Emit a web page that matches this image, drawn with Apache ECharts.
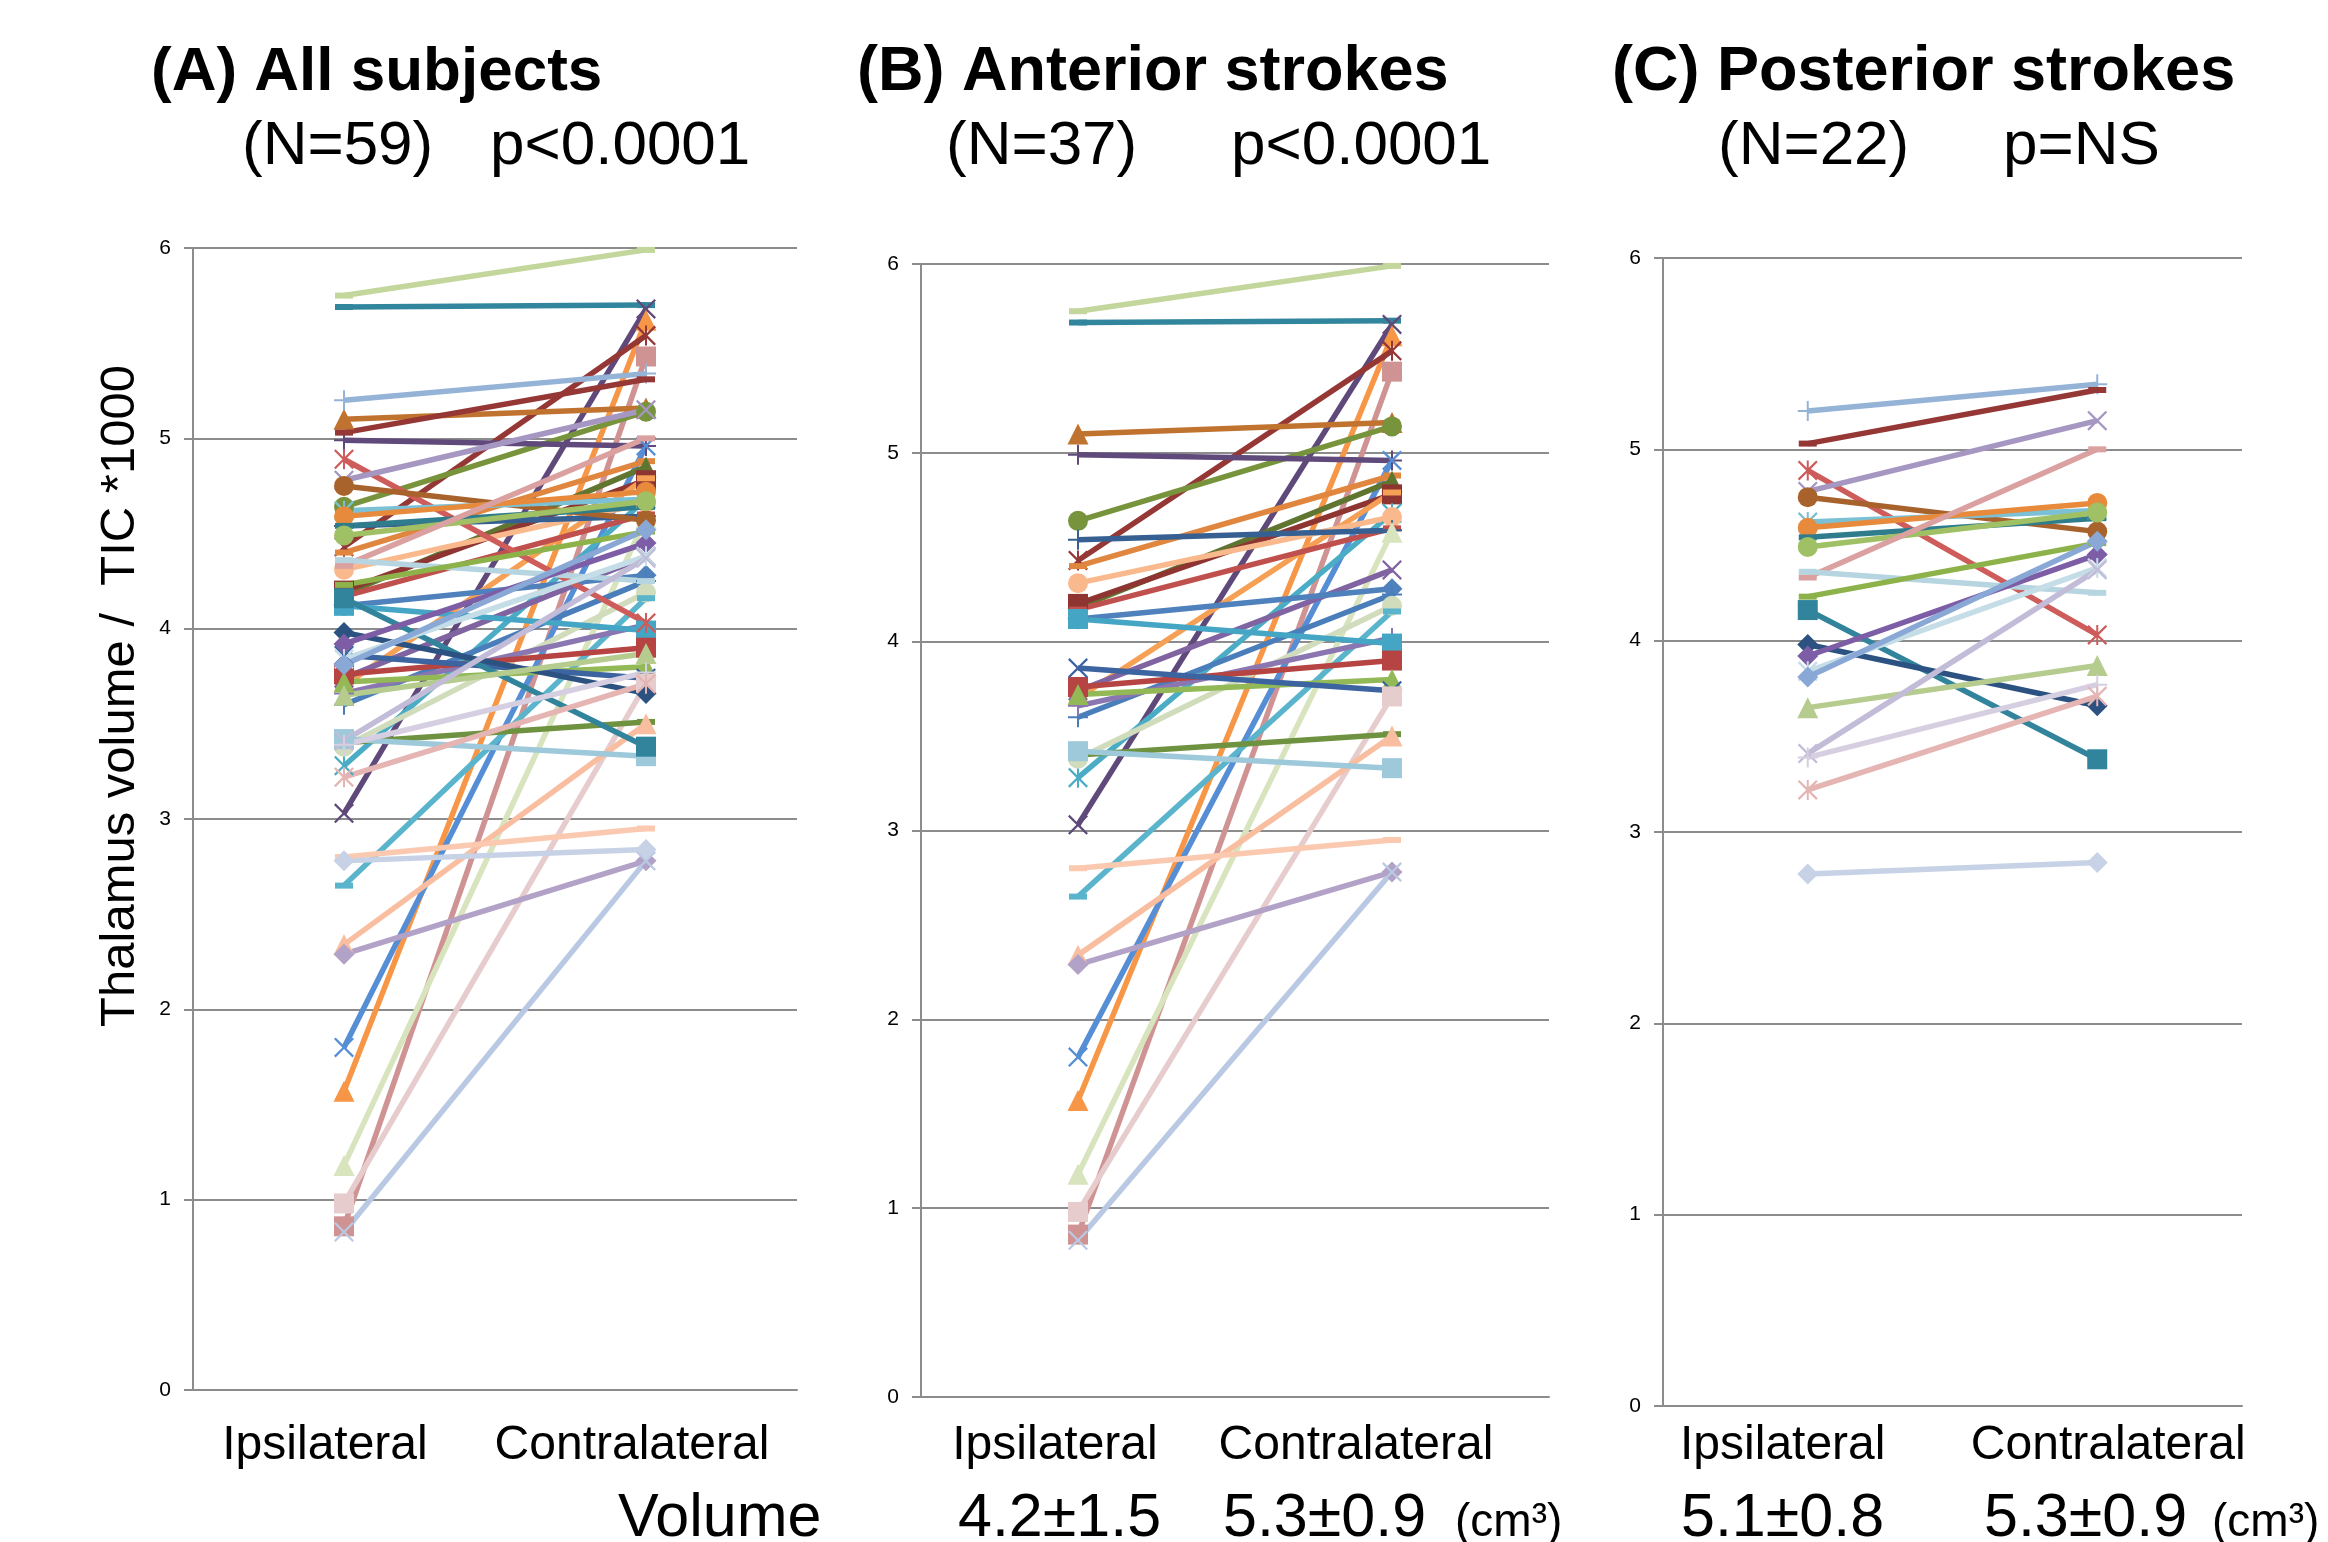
<!DOCTYPE html>
<html><head><meta charset="utf-8">
<script src="https://cdn.jsdelivr.net/npm/echarts@6/dist/echarts.min.js"></script>
<style>html,body{margin:0;padding:0;background:#fff}#c{width:2328px;height:1542px}</style>
</head><body><div id="c"></div>
<script>
// ---------------- DATA ----------------
const categories = ['Ipsilateral', 'Contralateral'];
const yTickValues = [0, 1, 2, 3, 4, 5, 6];

// (B) Anterior strokes: thalamus volume / TIC *1000
const anteriorIpsi   = [5.75, 5.69, 3.03, 1.57, 4.43, 0.86, 5.10, 4.64, 4.99, 1.80, 4.40, 4.18, 4.20, 3.70, 3.28, 4.31, 4.17, 4.54, 1.18, 3.74, 4.12, 3.60, 3.38, 2.65, 3.66, 4.12, 3.76, 3.72, 3.86, 0.98, 3.40, 2.34, 3.42, 2.80, 2.29, 0.83];
const anteriorContra = [5.99, 5.70, 5.68, 5.62, 5.54, 5.43, 5.16, 5.14, 4.96, 4.96, 4.88, 4.85, 4.78, 4.79, 4.68, 4.66, 4.60, 4.59, 4.58, 4.38, 4.28, 4.25, 4.19, 4.16, 4.02, 3.99, 3.90, 3.80, 3.74, 3.71, 3.51, 3.50, 3.33, 2.95, 2.78, 2.78];

// (C) Posterior strokes
const posteriorIpsi   = [5.20, 5.03, 4.89, 4.78, 4.75, 4.62, 4.59, 4.54, 4.49, 4.33, 4.36, 4.23, 4.16, 3.98, 3.92, 3.84, 3.81, 3.65, 3.41, 3.39, 3.22, 2.78];
const posteriorContra = [5.34, 5.31, 4.03, 5.15, 4.57, 4.68, 4.72, 4.64, 4.67, 5.00, 4.25, 4.51, 3.38, 3.66, 4.45, 4.38, 4.52, 3.87, 4.37, 3.77, 3.71, 2.84];

// ---------------- STYLES ----------------
const anteriorColors = ['#c3d69b','#31859c','#5f497a','#f79646','#953735','#d09393','#c0722f','#77933c','#604a7b','#558ed5','#e0863e','#5f7530','#8e3532','#f5a054','#4bacc6','#fab98c','#c0504d','#376092','#d7e4bd','#8064a2','#4f81bd','#4a7ebb','#d0dcbc','#5ab4cc','#8a76b0','#45a5c4','#b54442','#93b957','#3b64a0','#e6cccc','#6e9240','#f9bea0','#9dc9da','#fac9b0','#b3a2c7','#b9c9e3'];
const anteriorMarkers = ['dash','dash','x','triangle','star','square','triangle','circle','plus','x','dash','triangle','square','dash','star','circle','dash','plus','triangle','x','diamond','plus','circle','dash','plus','square','square','triangle','x','square','dash','triangle','square','dash','diamond','x'];
const posteriorColors = ['#95b3d7','#953735','#cd5c5a','#a596c2','#a8622b','#7bc0d4','#e88a3c','#2f7c8c','#9fc064','#dba0a0','#b7d5e0','#8db24a','#31849b','#2c5282','#7d5ea6','#c4dde6','#8aa8d6','#b5cc8e','#c2bcd8','#d6cfe2','#e5b5b3','#c7d2e6'];
const posteriorMarkers = ['plus','dash','star','x','circle','star','circle','dash','circle','dash','dash','dash','square','diamond','diamond','star','diamond','triangle','x','plus','star','diamond'];

const FONT = '"Liberation Sans", Arial, Helvetica, sans-serif';
const GRAY = '#8c8c8c';
const XPATH = 'M0,1.6L1.6,0L10,8.4L18.4,0L20,1.6L11.6,10L20,18.4L18.4,20L10,11.6L1.6,20L0,18.4L8.4,10Z';
const SYM = {
  dash: 'rect', square: 'rect', triangle: 'triangle', circle: 'circle', diamond: 'diamond',
  x: 'path://' + XPATH,
  plus: 'path://M9,0H11V9H20V11H11V20H9V11H0V9H9Z',
  star: 'path://' + XPATH + 'M9,0H11V20H9Z'
};
const SIZE = { dash: [18, 6], square: 20, triangle: 21, circle: 20, diamond: 21, x: 20, plus: 20, star: 20 };

function makeSeries(ipsi, contra, colors, markers, idx) {
  return ipsi.map((v, i) => ({
    type: 'line', xAxisIndex: idx, yAxisIndex: idx,
    data: [v, contra[i]],
    symbol: SYM[markers[i]], symbolSize: SIZE[markers[i]], showSymbol: true,
    lineStyle: { color: colors[i], width: 5.5 },
    itemStyle: { color: colors[i] },
    emphasis: { disabled: true }, silent: true, animation: false
  }));
}

const grids = [
  { left: 193, top: 248, width: 604, height: 1142 },
  { left: 921, top: 264, width: 628, height: 1133 },
  { left: 1663, top: 258, width: 579, height: 1148 }
];
const labelMargins = [56, 49, 40];
const labelPads = [
  [[0, 38, 0, 0], [0, 28, 0, 0]],
  [[0, 46, 0, 0], [0, 72, 0, 0]],
  [[0, 50, 0, 0], [0, 0, 0, 22]]
];

const xAxes = grids.map((g, k) => ({
  type: 'category', gridIndex: k, data: categories, boundaryGap: true,
  axisLine: { lineStyle: { color: GRAY, width: 2 } },
  axisTick: { show: false },
  axisLabel: {
    interval: 0, hideOverlap: false,
    margin: labelMargins[k], verticalAlign: 'middle', color: '#000', fontSize: 48, fontFamily: FONT,
    formatter: (v, i) => '{c' + i + '|' + v + '}',
    rich: {
      c0: { padding: labelPads[k][0], fontSize: 48, fontFamily: FONT, color: '#000' },
      c1: { padding: labelPads[k][1], fontSize: 48, fontFamily: FONT, color: '#000' }
    }
  }
}));
const yAxes = grids.map((g, k) => ({
  type: 'value', gridIndex: k, min: yTickValues[0], max: yTickValues[yTickValues.length - 1], interval: 1,
  axisLine: { show: true, lineStyle: { color: GRAY, width: 2 } },
  axisTick: { show: true, length: 9, lineStyle: { color: GRAY, width: 2 } },
  splitLine: { show: true, lineStyle: { color: GRAY, width: 2 } },
  axisLabel: { fontSize: 21, color: '#000', margin: 22, fontFamily: FONT }
}));

const series = []
  .concat(makeSeries(anteriorIpsi, anteriorContra, anteriorColors, anteriorMarkers, 0))
  .concat(makeSeries(posteriorIpsi, posteriorContra, posteriorColors, posteriorMarkers, 0))
  .concat(makeSeries(anteriorIpsi, anteriorContra, anteriorColors, anteriorMarkers, 1))
  .concat(makeSeries(posteriorIpsi, posteriorContra, posteriorColors, posteriorMarkers, 2));

function txt(s, x, y, size, bold, extra) {
  return Object.assign({
    type: 'text', x: x, y: y, silent: true,
    style: { text: s, fill: '#000', font: (bold ? 'bold ' : '') + size + 'px ' + FONT,
             textAlign: 'left', textVerticalAlign: 'middle' }
  }, extra || {});
}

const graphics = [
  txt('(A) All subjects', 151, 73, 62, true),
  txt('(B) Anterior strokes', 857, 73, 63, true),
  txt('(C) Posterior strokes', 1612, 73, 63, true),
  txt('(N=59)', 242, 147, 62, false),
  txt('p<0.0001', 490, 147, 62, false),
  txt('(N=37)', 946, 147, 62, false),
  txt('p<0.0001', 1231, 147, 62, false),
  txt('(N=22)', 1718, 147, 62, false),
  txt('p=NS', 2003, 147, 62, false),
  txt('Volume', 618, 1519, 61, false),
  txt('4.2±1.5', 958, 1519, 61, false),
  txt('5.3±0.9', 1223, 1519, 61, false),
  txt('(cm³)', 1455, 1523, 46, false),
  txt('5.1±0.8', 1681, 1519, 61, false),
  txt('5.3±0.9', 1984, 1519, 61, false),
  txt('(cm³)', 2212, 1523, 46, false),
  {
    type: 'text', x: 120, y: 696, rotation: Math.PI / 2, silent: true,
    style: { text: 'Thalamus volume /  TIC *1000', fill: '#000', font: '49px ' + FONT,
             textAlign: 'center', textVerticalAlign: 'middle' }
  }
];

const chart = echarts.init(document.getElementById('c'), null, { renderer: 'canvas' });
chart.setOption({
  backgroundColor: '#fff',
  animation: false,
  grid: grids,
  xAxis: xAxes,
  yAxis: yAxes,
  series: series,
  graphic: graphics
});
</script>
</body></html>
